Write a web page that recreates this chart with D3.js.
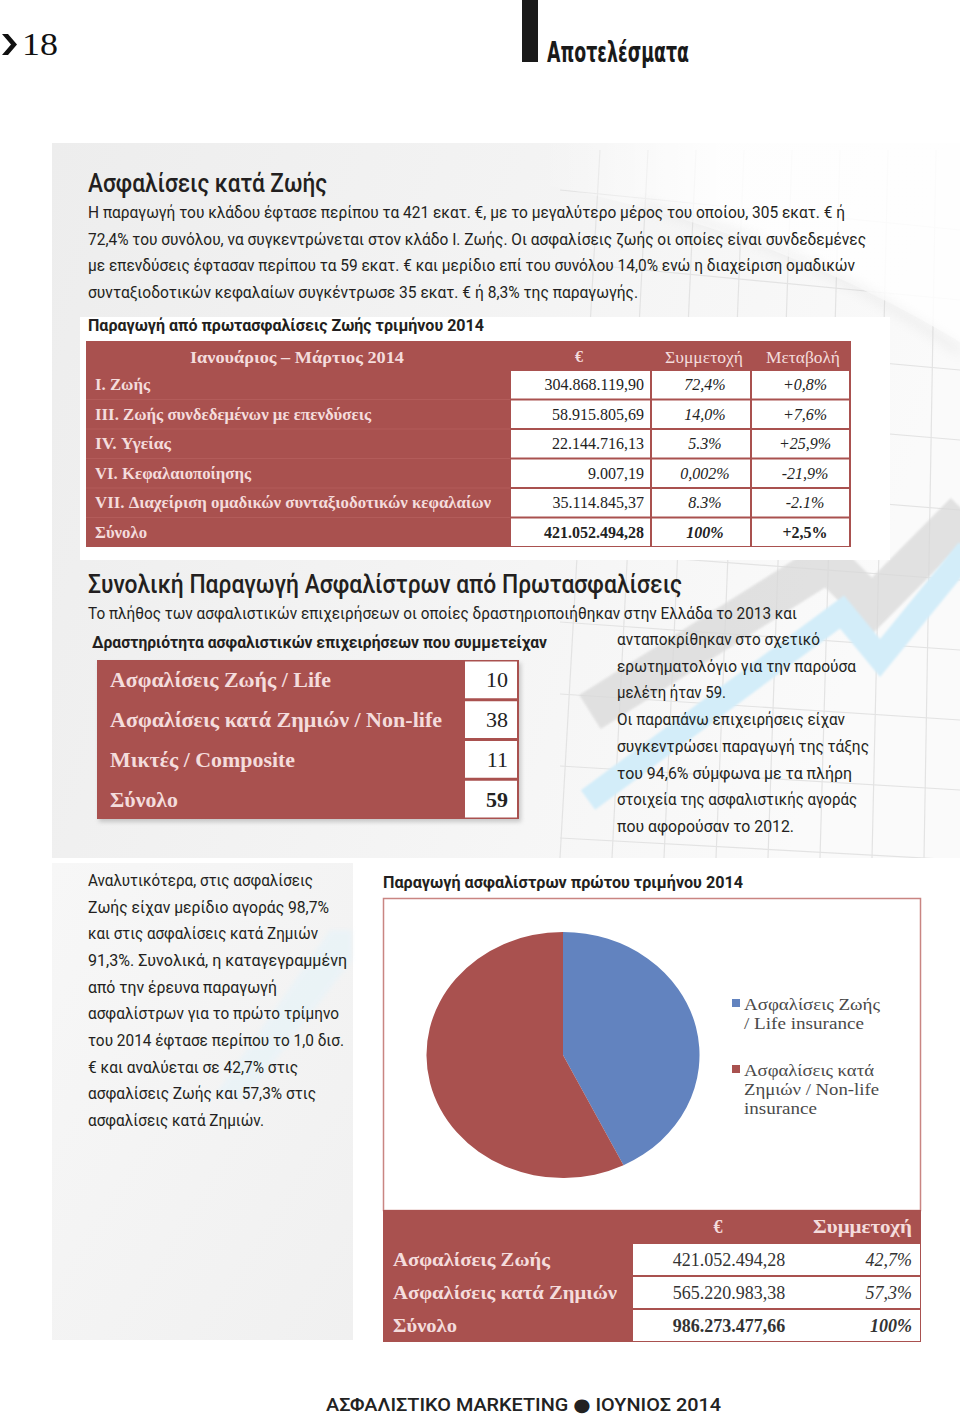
<!DOCTYPE html>
<html><head><meta charset="utf-8">
<script src="https://cdn.jsdelivr.net/npm/d3@7"></script>
<style>body{margin:0;background:#fff}svg{display:block}</style>
</head><body><svg id="c" width="960" height="1414"></svg>
<script>
// ---------------- DATA ----------------
const pageNumber = "18";
const sectionTitle = "Αποτελέσματα";
const heading1 = "Ασφαλίσεις κατά Ζωής";
const para1 = [
  "Η παραγωγή του κλάδου έφτασε περίπου τα 421 εκατ. €, με το μεγαλύτερο μέρος του οποίου, 305 εκατ. € ή",
  "72,4% του συνόλου, να συγκεντρώνεται στον κλάδο Ι. Ζωής. Οι ασφαλίσεις ζωής οι οποίες είναι συνδεδεμένες",
  "με επενδύσεις έφτασαν περίπου τα 59 εκατ. € και μερίδιο επί του συνόλου 14,0% ενώ η διαχείριση ομαδικών",
  "συνταξιοδοτικών κεφαλαίων συγκέντρωσε 35 εκατ. € ή 8,3% της παραγωγής."
];
const caption1 = "Παραγωγή από πρωτασφαλίσεις Ζωής τριμήνου 2014";
const table1Header = ["Ιανουάριος – Μάρτιος 2014", "€", "Συμμετοχή", "Μεταβολή"];
const table1Labels = ["Ι. Ζωής", "ΙΙΙ. Ζωής συνδεδεμένων με επενδύσεις", "IV. Υγείας", "VI. Κεφαλαιοποίησης", "VII. Διαχείριση ομαδικών συνταξιοδοτικών κεφαλαίων", "Σύνολο"];
const table1Euro = ["304.868.119,90", "58.915.805,69", "22.144.716,13", "9.007,19", "35.114.845,37", "421.052.494,28"];
const table1Share = ["72,4%", "14,0%", "5.3%", "0,002%", "8.3%", "100%"];
const table1Change = ["+0,8%", "+7,6%", "+25,9%", "-21,9%", "-2.1%", "+2,5%"];

const heading2 = "Συνολική Παραγωγή Ασφαλίστρων από Πρωτασφαλίσεις";
const para2 = "Το πλήθος των ασφαλιστικών επιχειρήσεων οι οποίες δραστηριοποιήθηκαν στην Ελλάδα το 2013 και";
const caption2 = "Δραστηριότητα ασφαλιστικών επιχειρήσεων που συμμετείχαν";
const table2Labels = ["Ασφαλίσεις Ζωής / Life", "Ασφαλίσεις κατά Ζημιών / Non-life", "Μικτές / Composite", "Σύνολο"];
const table2Counts = [10, 38, 11, 59];
const rightColumn = [
  "ανταποκρίθηκαν στο σχετικό",
  "ερωτηματολόγιο για την παρούσα",
  "μελέτη ήταν 59.",
  "Οι παραπάνω επιχειρήσεις είχαν",
  "συγκεντρώσει παραγωγή της τάξης",
  "του 94,6% σύμφωνα με τα πλήρη",
  "στοιχεία της ασφαλιστικής αγοράς",
  "που αφορούσαν το 2012."
];
const leftColumn = [
  "Αναλυτικότερα, στις ασφαλίσεις",
  "Ζωής είχαν μερίδιο αγοράς 98,7%",
  "και στις ασφαλίσεις κατά Ζημιών",
  "91,3%. Συνολικά, η καταγεγραμμένη",
  "από την έρευνα παραγωγή",
  "ασφαλίστρων για το πρώτο τρίμηνο",
  "του 2014 έφτασε περίπου το 1,0 δισ.",
  "€ και αναλύεται σε 42,7% στις",
  "ασφαλίσεις Ζωής και 57,3% στις",
  "ασφαλίσεις κατά Ζημιών."
];
const pieTitle = "Παραγωγή ασφαλίστρων πρώτου τριμήνου 2014";
const pieLegend = [["Ασφαλίσεις Ζωής", "/ Life insurance"], ["Ασφαλίσεις κατά", "Ζημιών / Non-life", "insurance"]];
const pieValues = [421052494.28, 565220983.38];
const table3Header = ["", "€", "Συμμετοχή"];
const table3Labels = ["Ασφαλίσεις Ζωής", "Ασφαλίσεις κατά Ζημιών", "Σύνολο"];
const table3Euro = ["421.052.494,28", "565.220.983,38", "986.273.477,66"];
const table3Share = ["42,7%", "57,3%", "100%"];
const footer = "ΑΣΦΑΛΙΣΤΙΚΟ MARKETING ● ΙΟΥΝΙΟΣ 2014";

// ---------------- STYLE / LAYOUT ----------------
const SANS = "Roboto, 'Noto Sans', 'DejaVu Sans', sans-serif";
const SERIF = "'Liberation Serif', 'DejaVu Serif', serif";
const RED = "#a9514f", BLUE = "#6283bf", INK = "#231f20", LIGHT = "#f4dcdc";

const svg = d3.select("#c");
const defs = svg.append("defs");
const g1 = defs.append("linearGradient").attr("id", "panelGrad").attr("x1", 0).attr("y1", 0).attr("x2", 1).attr("y2", 0.25);
[["0", "#ededed"], ["0.5", "#f3f3f3"], ["1", "#fafafa"]].forEach(s => g1.append("stop").attr("offset", s[0]).attr("stop-color", s[1]));
const g2 = defs.append("linearGradient").attr("id", "boxGrad").attr("x1", 0).attr("y1", 0).attr("x2", 1).attr("y2", 1);
[["0", "#f7f7f7"], ["1", "#f0f0f0"]].forEach(s => g2.append("stop").attr("offset", s[0]).attr("stop-color", s[1]));
const g3 = defs.append("linearGradient").attr("id", "sheenGrad").attr("gradientUnits", "userSpaceOnUse")
  .attr("x1", 540).attr("y1", 0).attr("x2", 720).attr("y2", 0);
[["0", "#ffffff", 0], ["1", "#ffffff", 0.85]].forEach(s => g3.append("stop").attr("offset", s[0]).attr("stop-color", s[1]).attr("stop-opacity", s[2]));
defs.append("filter").attr("id", "blur").attr("x", "-20%").attr("y", "-20%").attr("width", "140%").attr("height", "140%")
  .append("feGaussianBlur").attr("stdDeviation", 6);
defs.append("filter").attr("id", "blur2").append("feGaussianBlur").attr("stdDeviation", 2);
defs.append("filter").attr("id", "blur3").attr("x", "-20%").attr("y", "-20%").attr("width", "140%").attr("height", "140%")
  .append("feGaussianBlur").attr("stdDeviation", 1.2);
defs.append("clipPath").attr("id", "upClip").append("rect").attr("x", 52).attr("y", 143).attr("width", 908).attr("height", 715);

function T(x, y, s, o = {}) {
  const t = svg.append("text").attr("x", x).attr("y", y).text(s)
    .attr("font-family", o.ff || SANS).attr("font-size", o.fs || 17)
    .attr("fill", o.fill || INK);
  if (o.fw) t.attr("font-weight", o.fw);
  if (o.it) t.attr("font-style", "italic");
  if (o.anchor) t.attr("text-anchor", o.anchor);
  if (o.w) t.attr("textLength", o.w).attr("lengthAdjust", "spacingAndGlyphs");
  return t;
}

// ---------------- BACKGROUND ----------------
svg.append("rect").attr("x", 52).attr("y", 143).attr("width", 908).attr("height", 715).attr("fill", "url(#panelGrad)");
const deco = svg.append("g").attr("clip-path", "url(#upClip)");
// faint perspective grid
const gridV = d3.range(10), gridH = d3.range(10);
gridV.forEach(i => deco.append("line").attr("x1", 600 + i * 48).attr("y1", 150).attr("x2", 560 + i * 52).attr("y2", 858)
  .attr("stroke", "#e3e3e3").attr("stroke-width", 1.2));
gridH.forEach(i => deco.append("line").attr("x1", 560).attr("y1", 190 + i * 72).attr("x2", 960).attr("y2", 230 + i * 70)
  .attr("stroke", "#e3e3e3").attr("stroke-width", 1.2));
// page sheen
deco.append("path").attr("d", "M540,143 L960,143 L960,342 Q770,228 540,184 Z").attr("fill", "url(#sheenGrad)");
deco.append("path").attr("d", "M640,205 Q800,240 960,352").attr("fill", "none").attr("stroke", "#c4c4c4")
  .attr("stroke-width", 5).attr("opacity", 0.35).attr("filter", "url(#blur)");
// gray & blue arrows
deco.append("polyline").attr("points", "590,712 828,562 872,606 965,512").attr("fill", "none")
  .attr("stroke", "#d9d9d9").attr("stroke-width", 40).attr("stroke-linejoin", "miter").attr("opacity", 0.75).attr("filter", "url(#blur3)");
deco.append("polyline").attr("points", "588,800 842,612 880,658 968,550").attr("fill", "none")
  .attr("stroke", "#d3edf9").attr("stroke-width", 24).attr("stroke-linejoin", "miter").attr("filter", "url(#blur3)");

// white box behind table 1
svg.append("rect").attr("x", 80).attr("y", 317).attr("width", 810).attr("height", 243).attr("fill", "#ffffff");
// lower-left text box
svg.append("rect").attr("x", 52).attr("y", 863).attr("width", 301).attr("height", 477).attr("fill", "url(#boxGrad)");
svg.append("path").attr("d", "M215,1095 L330,930 L352,930 L352,960 L245,1100 Z").attr("fill", "#e3f3fa").attr("opacity", 0.5).attr("filter", "url(#blur2)");

// ---------------- HEADER ----------------
svg.append("path").attr("d", "M2,34 L8,34 L17,44.5 L8,55 L2,55 L11,44.5 Z").attr("fill", "#111");
T(22, 55, pageNumber, { ff: SERIF, fs: 32, w: 36, fill: "#111" });
svg.append("rect").attr("x", 522).attr("y", 0).attr("width", 16).attr("height", 62).attr("fill", "#1a1a1a");
T(547, 62, sectionTitle, { ff: "'DejaVu Sans', sans-serif", fs: 28, fw: "bold", w: 142, fill: "#1a1a1a" });

// ---------------- SECTION 1 ----------------
T(88, 192, heading1, { fs: 26, fw: 500, w: 239 });
const para1W = [757, 778, 767, 550];
para1.forEach((s, i) => T(88, 218 + i * 26.7, s, { w: para1W[i] }));
T(88, 331, caption1, { fs: 17, fw: "bold", w: 396 });

// Table 1
const t1 = svg.append("g");
t1.append("rect").attr("x", 86).attr("y", 341).attr("width", 765).attr("height", 206).attr("fill", RED);
const t1Rows = d3.scaleBand().domain(d3.range(table1Labels.length)).range([370, 547]);
const t1Cols = d3.scaleOrdinal().domain(["euro", "share", "change"]).range([[510, 651], [651, 751], [751, 850]]);
const t1HeaderW = [214, 0, 78, 74];
T(190, 363, table1Header[0], { ff: SERIF, fs: 16, fw: "bold", fill: LIGHT, w: t1HeaderW[0] });
T(579, 362, table1Header[1], { ff: SERIF, fs: 16, fw: "bold", fill: LIGHT, anchor: "middle" });
T(665, 363, table1Header[2], { ff: SERIF, fs: 16, fill: LIGHT, w: t1HeaderW[2] });
T(766, 363, table1Header[3], { ff: SERIF, fs: 16, fill: LIGHT, w: t1HeaderW[3] });
const t1LabelW = [55, 276, 76, 156, 396, 52];
table1Labels.forEach((lab, i) => {
  const y = t1Rows(i), h = t1Rows.bandwidth(), yb = y + h / 2 + 5.5;
  if (i > 0) t1.append("line").attr("x1", 86).attr("x2", 510).attr("y1", y).attr("y2", y).attr("stroke", "#b35c5a").attr("stroke-width", 1);
  ["euro", "share", "change"].forEach(c => {
    const [a, b] = t1Cols(c);
    t1.append("rect").attr("x", a + 1).attr("y", y + 1).attr("width", b - a - 2).attr("height", h - 2).attr("fill", "#fff");
  });
  const tot = i === table1Labels.length - 1;
  T(95, yb, lab, { ff: SERIF, fs: 16, fw: "bold", fill: LIGHT, w: t1LabelW[i] });
  T(644, yb, table1Euro[i], { ff: SERIF, fs: 16, fill: "#222", anchor: "end", fw: tot ? "bold" : null });
  T(705, yb, table1Share[i], { ff: SERIF, fs: 16, fill: "#222", anchor: "middle", it: true, fw: tot ? "bold" : null });
  T(805, yb, table1Change[i], { ff: SERIF, fs: 16, fill: "#222", anchor: "middle", it: !tot, fw: tot ? "bold" : null });
});

// ---------------- SECTION 2 ----------------
T(88, 593, heading2, { fs: 26, fw: 500, w: 594 });
T(88, 619, para2, { w: 709 });
T(92, 648, caption2, { fs: 17, fw: "bold", w: 455 });
const rightW = [203, 239, 109, 228, 252, 235, 240, 177];
rightColumn.forEach((s, i) => T(617, 645 + i * 26.7, s, { w: rightW[i] }));

// Table 2
const t2 = svg.append("g");
t2.append("rect").attr("x", 99).attr("y", 663).attr("width", 422).attr("height", 159).attr("fill", "#9a9a9a").attr("opacity", 0.5).attr("filter", "url(#blur2)");
t2.append("rect").attr("x", 97).attr("y", 660).attr("width", 422).attr("height", 159).attr("fill", RED);
const t2Rows = d3.scaleBand().domain(d3.range(table2Labels.length)).range([660, 819]);
const t2LabelW = [221, 332, 185, 68];
table2Labels.forEach((lab, i) => {
  const y = t2Rows(i), h = t2Rows.bandwidth(), yb = y + h / 2 + 7.5;
  t2.append("rect").attr("x", 465).attr("y", y + 1.5).attr("width", 52).attr("height", h - 3).attr("fill", "#fff");
  const tot = i === table2Labels.length - 1;
  T(110, yb, lab, { ff: SERIF, fs: 22, fw: "bold", fill: LIGHT, w: t2LabelW[i] });
  T(508, yb, String(table2Counts[i]), { ff: SERIF, fs: 22, fill: "#222", anchor: "end", fw: tot ? "bold" : null });
});

// ---------------- LOWER LEFT TEXT ----------------
const leftW = [225, 241, 230, 259, 189, 251, 256, 210, 228, 176];
leftColumn.forEach((s, i) => T(88, 886 + i * 26.65, s, { w: leftW[i] }));

// ---------------- PIE ----------------
T(383, 888, pieTitle, { fs: 17, fw: "bold", w: 360 });
svg.append("rect").attr("x", 383.5).attr("y", 898.5).attr("width", 537).attr("height", 312)
  .attr("fill", "#fff").attr("stroke", "#c98582").attr("stroke-width", 1.5);
const pieColors = d3.scaleOrdinal().domain([0, 1]).range([BLUE, RED]);
const arcs = d3.pie().sort(null).value(d => d)(pieValues);
const arc = d3.arc().innerRadius(0).outerRadius(123);
svg.append("g").attr("transform", "translate(563,1055) scale(1.11,1)")
  .selectAll("path").data(arcs).join("path")
  .attr("d", arc).attr("fill", (d, i) => pieColors(i));
const legY = [1010, 1076];
const legW = [[136, 120], [130, 135, 73]];
pieLegend.forEach((lines, i) => {
  svg.append("rect").attr("x", 732).attr("y", legY[i] - 11).attr("width", 8).attr("height", 8).attr("fill", pieColors(i));
  lines.forEach((s, j) => T(744, legY[i] + j * 19, s, { ff: SERIF, fs: 16, fill: "#4a4a4a", w: legW[i][j] }));
});

// Table 3
const t3 = svg.append("g");
t3.append("rect").attr("x", 383).attr("y", 1210).attr("width", 538).attr("height", 132).attr("fill", RED);
T(718, 1233, table3Header[1], { ff: SERIF, fs: 18, fw: "bold", fill: LIGHT, anchor: "middle" });
T(813, 1233, table3Header[2], { ff: SERIF, fs: 18, fw: "bold", fill: LIGHT, w: 99 });
const t3Rows = d3.scaleBand().domain(d3.range(table3Labels.length)).range([1243, 1342]);
const t3LabelW = [157, 224, 64];
table3Labels.forEach((lab, i) => {
  const y = t3Rows(i), h = t3Rows.bandwidth(), yb = y + h / 2 + 6.5;
  t3.append("rect").attr("x", 633).attr("y", y + 1).attr("width", 287).attr("height", h - 2).attr("fill", "#fff");
  const tot = i === table3Labels.length - 1;
  T(393, yb, lab, { ff: SERIF, fs: 18, fw: "bold", fill: LIGHT, w: t3LabelW[i] });
  T(729, yb, table3Euro[i], { ff: SERIF, fs: 18, fill: "#333", anchor: "middle", fw: tot ? "bold" : null });
  T(912, yb, table3Share[i], { ff: SERIF, fs: 18, fill: "#333", anchor: "end", it: true, fw: tot ? "bold" : null });
});

// ---------------- FOOTER ----------------
T(326, 1411, footer, { fs: 18, fw: 500, w: 395, fill: "#222" });
</script></body></html>
